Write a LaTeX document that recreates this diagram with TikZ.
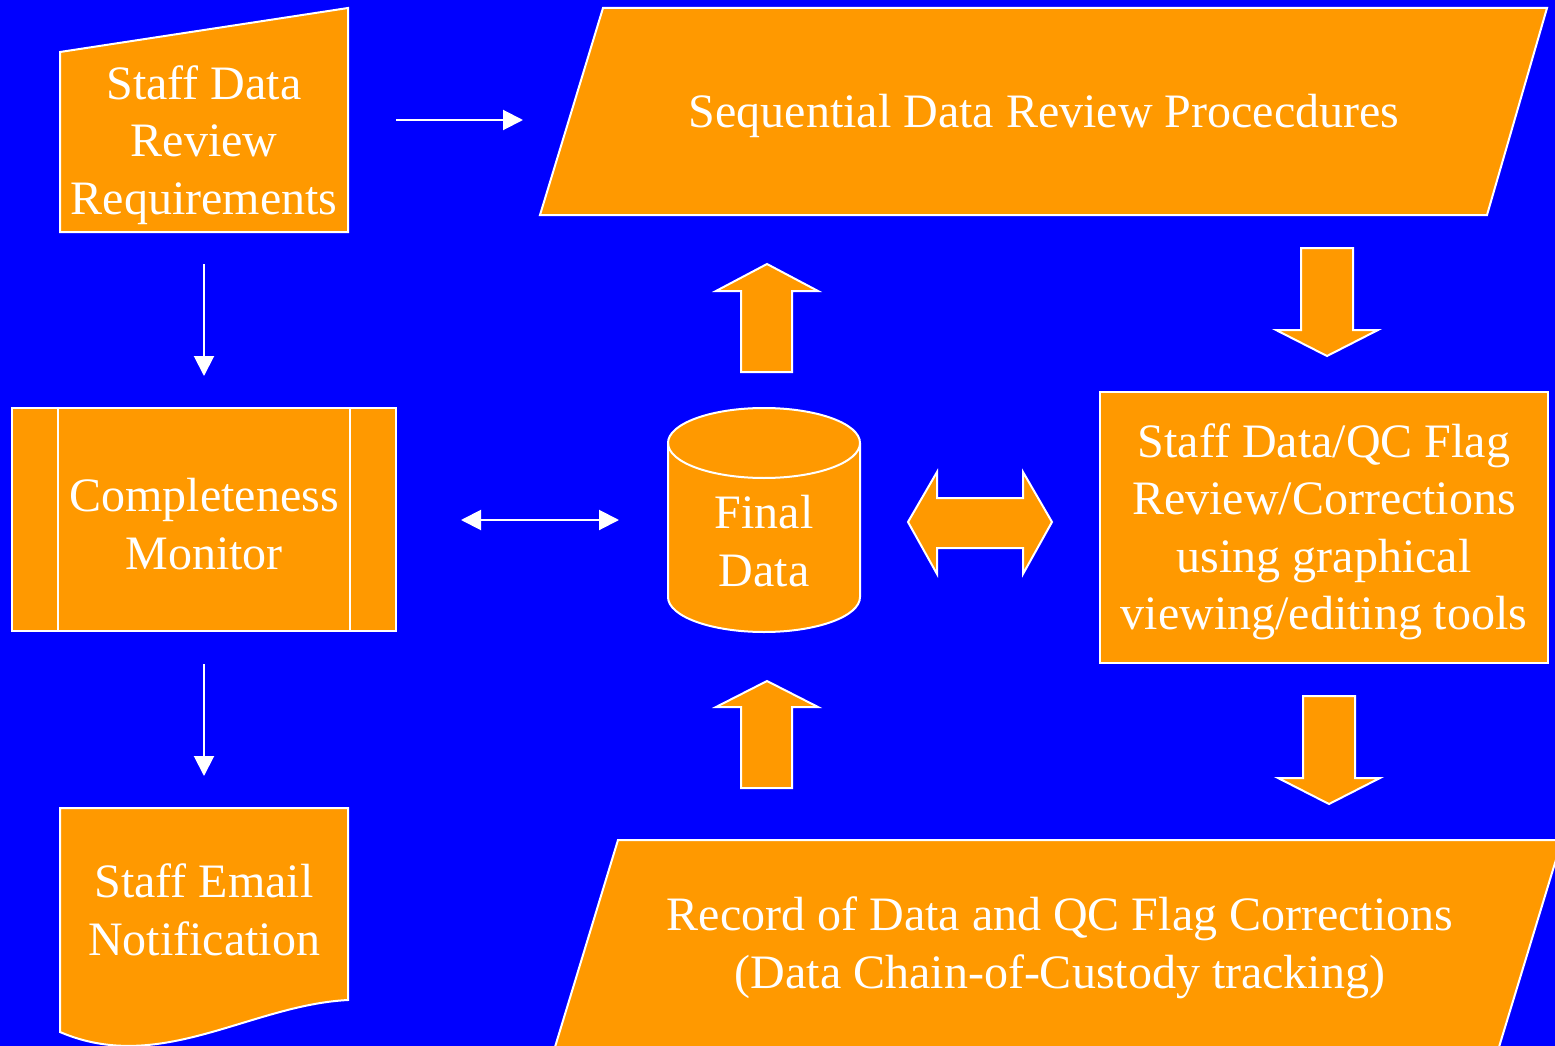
\documentclass[tikz,border=0pt]{standalone}
\usepackage{fontspec}
\setmainfont{Liberation Serif}
\usetikzlibrary{arrows.meta}
\definecolor{bgblue}{HTML}{0000FF}
\definecolor{orng}{HTML}{FF9900}
\begin{document}
\begin{tikzpicture}[x=1pt,y=-1pt,
  shp/.style={fill=orng, draw=white, line width=2pt, line join=miter},
  lbl/.style={text=white, font=\fontsize{48}{57.5}\selectfont, align=center, inner sep=0pt},
  conn/.style={draw=white, line width=2pt, -{Triangle[length=20pt,width=20pt]}},
  dconn/.style={draw=white, line width=2pt, {Triangle[length=20pt,width=20pt]}-{Triangle[length=20pt,width=20pt]}}]
\useasboundingbox (0,0) rectangle (1555,1046);
\fill[bgblue] (0,0) rectangle (1555,1046);
\begin{scope}
\clip (0,0) rectangle (1555,1046);
% manual input
\draw[shp] (60,52) -- (348,8) -- (348,232) -- (60,232) -- cycle;
% top parallelogram
\draw[shp] (603,8) -- (1547,8) -- (1487,215) -- (540,215) -- cycle;
% predefined process
\draw[shp] (12,408) rectangle (396,631);
\draw[white, line width=2pt] (58,408) -- (58,631) (350,408) -- (350,631);
% document
\draw[shp] (60,808) -- (348,808) -- (348,1000) .. controls (250,1005) and (160,1075) .. (60,1032) -- cycle;
% cylinder
\draw[shp] (668,443) -- (668,597) arc[start angle=180, end angle=360, x radius=96, y radius=-35] -- (860,443) arc[start angle=0, end angle=180, x radius=96, y radius=-35] -- cycle;
\draw[white, line width=2pt] (668,443) arc[start angle=180, end angle=0, x radius=96, y radius=35];
% right rectangle
\draw[shp] (1100,392) rectangle (1548,663);
% bottom parallelogram
\draw[shp] (618,840) -- (1562,840) -- (1499,1047) -- (555,1047) -- cycle;
% block arrows
\draw[shp] (741,372) -- (741,291) -- (716,291) -- (767,264) -- (818,291) -- (792,291) -- (792,372) -- cycle;
\draw[shp] (741,788) -- (741,707) -- (716,707) -- (767,681) -- (818,707) -- (792,707) -- (792,788) -- cycle;
\draw[shp] (1301,248) -- (1353,248) -- (1353,330) -- (1378,330) -- (1327,356) -- (1276,330) -- (1301,330) -- cycle;
\draw[shp] (1303,696) -- (1355,696) -- (1355,778) -- (1380,778) -- (1329,804) -- (1278,778) -- (1303,778) -- cycle;
\draw[shp] (908,522) -- (937,472) -- (937,498) -- (1023,498) -- (1023,472) -- (1052,522) -- (1023,574) -- (1023,548) -- (937,548) -- (937,574) -- cycle;
\end{scope}
% labels
\node[lbl] (req) at (204,145) {Staff Data\\Review\\Requirements};
\node[lbl] (seq) at (1044,116) {Sequential Data Review Procecdures};
\node[lbl] (mon) at (204,524) {Completeness\\Monitor};
\node[lbl] (mail) at (204,910) {Staff Email\\Notification};
\node[lbl] (fin) at (764,541) {Final\\Data};
\node[lbl] (qc) at (1324,532) {Staff Data/QC Flag\\Review/Corrections\\using graphical\\viewing/editing tools};
\node[lbl] (rec) at (1060,948) {Record of Data and QC Flag Corrections\\(Data Chain-of-Custody tracking)};
% connector endpoints
\coordinate (reqE) at (396,120);
\coordinate (seqW) at (523,120);
\coordinate (reqS) at (204,264);
\coordinate (monN) at (204,376);
\coordinate (monS) at (204,664);
\coordinate (mailN) at (204,776);
\coordinate (monE) at (461,520);
\coordinate (finW) at (619,520);
\draw[conn] (reqE) -- (seqW);
\draw[conn] (reqS) -- (monN);
\draw[conn] (monS) -- (mailN);
\draw[dconn] (monE) -- (finW);
\end{tikzpicture}
\end{document}
